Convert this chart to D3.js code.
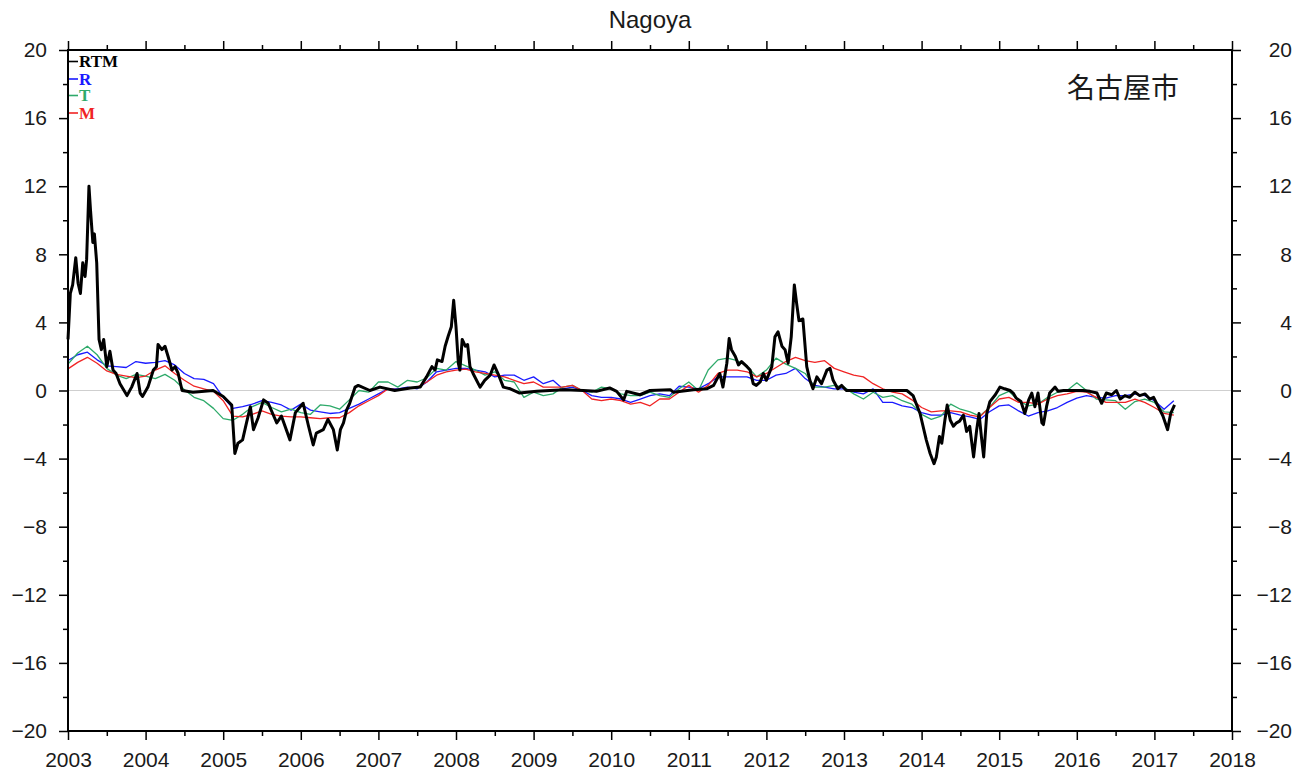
<!DOCTYPE html>
<html>
<head>
<meta charset="utf-8">
<script src="https://cdn.jsdelivr.net/npm/d3@7"></script>
<style>
  body { margin: 0; background: #fff; }
  text { font-family: "Liberation Sans", Arial, sans-serif; }
</style>
</head>
<body>
<svg id="chart" width="1304" height="771"></svg>
<script>
// black line (RTM)
var rtmYears = [2003.00,2003.03,2003.06,2003.10,2003.13,2003.16,2003.19,2003.22,2003.24,2003.27,2003.29,2003.32,2003.34,2003.37,2003.40,2003.43,2003.46,2003.50,2003.54,2003.58,2003.62,2003.67,2003.76,2003.82,2003.89,2003.93,2003.96,
  2004.03,2004.10,2004.14,2004.16,2004.21,2004.25,2004.29,2004.34,2004.38,2004.42,2004.47,2004.61,2004.87,
  2005.00,2005.11,2005.15,2005.19,2005.25,2005.30,2005.35,2005.39,2005.45,2005.52,2005.58,2005.69,2005.75,2005.86,2005.93,
  2006.03,2006.10,2006.16,2006.20,2006.29,2006.35,2006.42,2006.47,2006.51,2006.55,2006.59,2006.63,2006.70,2006.74,2006.89,
  2007.02,2007.21,2007.41,2007.54,2007.62,2007.69,2007.73,2007.76,2007.82,2007.86,2007.90,2007.94,2007.97,
  2008.00,2008.03,2008.05,2008.08,2008.12,2008.15,2008.18,2008.22,2008.31,2008.37,2008.44,2008.49,2008.55,2008.61,2008.70,2008.82,
  2009.04,2009.21,2009.40,2009.64,2009.81,2009.98,2010.07,2010.16,2010.20,2010.37,2010.50,2010.76,2010.80,
  2011.06,2011.23,2011.32,2011.40,2011.44,2011.49,2011.52,2011.55,2011.60,2011.64,2011.68,2011.75,2011.79,2011.83,2011.87,2011.92,2011.96,
  2012.00,2012.07,2012.11,2012.15,2012.20,2012.24,2012.28,2012.32,2012.36,2012.39,2012.42,2012.47,2012.52,2012.56,2012.60,2012.65,2012.71,2012.78,2012.82,2012.86,2012.92,2012.97,
  2013.03,2013.20,2013.42,2013.63,2013.81,2013.89,2013.98,
  2014.06,2014.11,2014.16,2014.19,2014.23,2014.26,2014.30,2014.33,2014.37,2014.41,2014.45,2014.49,2014.54,2014.58,2014.62,2014.67,2014.71,2014.74,2014.77,2014.80,2014.84,2014.88,2014.95,
  2015.01,2015.07,2015.14,2015.18,2015.22,2015.28,2015.33,2015.38,2015.42,2015.46,2015.50,2015.55,2015.57,2015.61,2015.65,2015.72,2015.76,2015.83,
  2016.08,2016.17,2016.26,2016.32,2016.38,2016.45,2016.51,2016.56,2016.62,2016.68,2016.75,2016.81,2016.88,2016.94,2016.99,
  2017.05,2017.11,2017.17,2017.21,2017.26];
var rtmValues = [3.0,5.7,6.2,7.8,6.3,5.7,7.5,6.7,7.7,12.0,10.6,8.7,9.2,7.5,3.0,2.4,3.0,1.4,2.3,1.2,1.0,0.4,-0.3,0.2,1.0,-0.15,-0.35,
  0.2,1.2,1.4,2.7,2.4,2.6,2.0,1.2,1.4,1.0,0.0,-0.1,0.0,
  -0.35,-0.85,-3.7,-3.1,-2.9,-1.9,-0.95,-2.3,-1.6,-0.55,-0.75,-1.9,-1.5,-2.9,-1.3,
  -0.75,-2.1,-3.2,-2.5,-2.3,-1.7,-2.3,-3.5,-2.3,-1.9,-1.15,-0.75,0.2,0.3,0.0,
  0.2,0.0,0.15,0.2,0.8,1.4,1.2,1.8,1.7,2.6,3.2,3.75,5.3,
  3.75,1.6,1.2,3.0,2.6,2.7,1.4,1.0,0.2,0.6,0.9,1.5,0.9,0.2,0.1,-0.15,
  -0.05,0.0,0.05,0.0,-0.05,0.15,-0.05,-0.55,-0.05,-0.25,0.0,0.05,-0.1,
  0.05,0.1,0.3,1.0,0.2,1.6,3.05,2.4,2.0,1.5,1.7,1.4,1.2,0.4,0.3,0.5,1.0,
  0.6,1.4,3.15,3.45,2.6,2.4,1.6,3.15,6.2,5.1,4.1,4.2,1.4,0.6,0.1,0.8,0.4,1.2,1.3,0.6,0.1,0.3,
  0.0,0.0,0.0,0.0,0.0,-0.3,-1.35,
  -2.9,-3.7,-4.3,-3.9,-2.7,-3.1,-1.75,-0.85,-1.75,-2.1,-1.9,-1.8,-1.45,-2.4,-2.1,-3.9,-2.3,-1.35,-2.7,-3.9,-1.35,-0.65,-0.25,
  0.2,0.1,0.0,-0.15,-0.45,-0.65,-1.35,-0.55,-0.15,-0.95,-0.15,-1.9,-2.0,-0.95,-0.15,0.2,-0.05,0.0,
  0.0,-0.05,-0.15,-0.75,-0.15,-0.25,0.0,-0.5,-0.3,-0.4,-0.1,-0.3,-0.2,-0.5,-0.4,
  -0.95,-1.5,-2.3,-1.35,-0.85];

// R, T, M sampled every 1/8 year from 2003.0
var gridStart = 2003, gridStep = 0.125;
var rValues = [1.76,2.1,2.25,1.8,1.45,1.4,1.35,1.7,1.6,1.65,1.75,1.5,1.0,0.7,0.65,0.4,-0.4,-1.05,-0.95,-0.8,-0.6,-0.7,-0.85,-1.15,-0.8,-1.15,-1.25,-1.35,-1.3,-1.05,-0.8,
  -0.5,-0.2,0.1,0.1,0.2,0.1,0.5,1.1,1.2,1.3,1.3,1.2,1.1,0.8,0.9,0.9,0.6,0.8,0.4,0.6,0.1,0.2,0.0,-0.3,-0.4,-0.4,-0.5,-0.7,-0.5,-0.3,-0.2,
  -0.3,0.25,0.2,0.1,0.4,0.8,0.8,0.8,0.8,0.6,0.6,0.9,1.0,1.3,0.7,0.3,0.2,0.1,0.1,-0.1,-0.2,0.1,-0.7,-0.7,-0.9,-1.0,-1.3,-1.45,-1.45,-1.3,
  -1.45,-1.55,-1.7,-1.25,-0.9,-0.85,-1.2,-1.5,-1.3,-1.2,-1.0,-0.7,-0.45,-0.3,-0.4,-0.45,-0.3,-0.3,-0.2,-0.3,-0.6,-1.1,-0.6];
var tValues = [1.55,2.2,2.6,2.1,1.3,0.9,0.7,0.95,0.85,0.7,0.95,0.6,0.05,-0.4,-0.6,-1.05,-1.65,-1.75,-1.4,-0.95,-0.7,-1.0,-1.25,-1.1,-1.3,-1.4,-0.85,-0.9,-1.1,-0.55,0.0,
  -0.1,0.5,0.5,0.2,0.6,0.5,0.75,1.3,1.2,1.7,1.45,1.2,0.9,1.1,0.6,0.5,-0.4,-0.1,-0.3,-0.2,0.2,0.3,0.0,-0.1,0.2,0.1,-0.2,-0.3,-0.3,-0.1,-0.3,
  -0.4,0.1,0.5,0.0,1.2,1.8,1.9,1.75,1.45,0.8,1.2,1.9,1.55,1.3,1.0,0.2,0.2,0.3,0.2,-0.2,-0.5,-0.1,-0.4,-0.3,-0.6,-0.8,-1.4,-1.7,-1.5,-0.8,
  -1.1,-1.25,-1.5,-1.0,-0.3,-0.05,-0.6,-0.9,-0.8,-0.4,-0.1,0.0,0.45,0.0,-0.5,-0.55,-0.6,-1.1,-0.65,-0.5,-0.7,-1.25,-1.3];
var mValues = [1.27,1.65,1.95,1.6,1.15,0.95,0.85,0.75,0.85,1.2,1.45,1.0,0.6,0.25,0.1,-0.05,-0.6,-1.5,-1.55,-1.4,-1.2,-1.4,-1.5,-1.55,-1.55,-1.6,-1.65,-1.6,-1.6,-1.3,-0.9,
  -0.6,-0.3,0.1,0.05,0.1,0.2,0.5,0.9,1.1,1.2,1.25,1.1,1.0,0.9,0.8,0.6,0.4,0.5,0.2,0.2,0.2,0.3,0.0,-0.5,-0.6,-0.5,-0.6,-0.8,-0.7,-0.9,-0.5,
  -0.5,-0.1,0.3,-0.1,0.3,1.0,1.2,1.2,1.1,0.8,1.0,1.35,1.7,1.95,1.75,1.65,1.75,1.3,1.1,0.9,0.8,0.4,0.1,-0.1,-0.2,-0.55,-1.0,-1.25,-1.2,-1.2,
  -1.25,-1.45,-1.55,-1.0,-0.5,-0.4,-0.7,-0.7,-0.8,-0.5,-0.3,-0.2,-0.05,-0.1,-0.4,-0.7,-0.7,-0.7,-0.5,-0.7,-1.0,-1.35,-1.45];

var seriesNames = ["RTM", "R", "T", "M"];
var seriesColors = ["#000000", "#1a1aff", "#2eaa6a", "#f02424"];
var xMajor = d3.range(2003, 2019, 1);
var yMajor = d3.range(-20, 21, 4);

var svg = d3.select("#chart");
var plotLeft = 68, plotRight = 1232, plotTop = 50, plotBottom = 731;

var x = d3.scaleLinear().domain([2003, 2018]).range([plotLeft, plotRight]);
var y = d3.scaleLinear().domain([-20, 20]).range([plotBottom, plotTop]);

// zero line
svg.append("line")
  .attr("x1", plotLeft).attr("x2", plotRight)
  .attr("y1", y(0)).attr("y2", y(0))
  .attr("stroke", "#cfcfcf").attr("stroke-width", 1);

function gridDate(i) { return gridStart + i * gridStep; }

var line = d3.line()
  .x(function(d) { return x(d[0]); })
  .y(function(d) { return y(d[1]); });

var colored = [[rValues, 1], [tValues, 2], [mValues, 3]];
colored.forEach(function(s) {
  var pts = s[0].map(function(v, i) { return [gridDate(i), v]; });
  svg.append("path")
    .attr("d", line(pts))
    .attr("fill", "none")
    .attr("stroke", seriesColors[s[1]])
    .attr("stroke-width", 1.3)
    .attr("stroke-linejoin", "round");
});

var rtmPts = rtmYears.map(function(t, i) { return [t, rtmValues[i]]; });
svg.append("path")
  .attr("d", line(rtmPts))
  .attr("fill", "none")
  .attr("stroke", "#000")
  .attr("stroke-width", 3)
  .attr("stroke-linejoin", "round");

// axes: major ticks with labels, minor ticks without
function styleAxis(g) {
  g.select(".domain").remove();
  g.selectAll("line").attr("stroke", "#000").attr("stroke-width", 1.5);
  g.selectAll("text").style("font-size", "21px").attr("fill", "#1a1a1a");
}
var xMinor = d3.range(2003.5, 2018, 1);
var yMinor = d3.range(-18, 20, 4);

svg.append("g").attr("transform", "translate(0," + plotBottom + ")")
  .call(d3.axisBottom(x).tickValues(xMajor).tickFormat(d3.format("d")).tickSize(9).tickPadding(12))
  .call(styleAxis);
svg.append("g").attr("transform", "translate(0," + plotBottom + ")")
  .call(d3.axisBottom(x).tickValues(xMinor).tickFormat("").tickSize(5))
  .call(styleAxis);
svg.append("g").attr("transform", "translate(0," + plotTop + ")")
  .call(d3.axisTop(x).tickValues(xMajor).tickFormat("").tickSize(9))
  .call(styleAxis);
svg.append("g").attr("transform", "translate(0," + plotTop + ")")
  .call(d3.axisTop(x).tickValues(xMinor).tickFormat("").tickSize(5))
  .call(styleAxis);
svg.append("g").attr("transform", "translate(" + plotLeft + ",0)")
  .call(d3.axisLeft(y).tickValues(yMajor).tickSize(9).tickPadding(12))
  .call(styleAxis);
svg.append("g").attr("transform", "translate(" + plotLeft + ",0)")
  .call(d3.axisLeft(y).tickValues(yMinor).tickFormat("").tickSize(5))
  .call(styleAxis);
var rightAxis = svg.append("g").attr("transform", "translate(" + plotRight + ",0)")
  .call(d3.axisRight(y).tickValues(yMajor).tickSize(9).tickPadding(12))
  .call(styleAxis);
rightAxis.selectAll("text").attr("text-anchor", "end").attr("x", 60);
svg.append("g").attr("transform", "translate(" + plotRight + ",0)")
  .call(d3.axisRight(y).tickValues(yMinor).tickFormat("").tickSize(5))
  .call(styleAxis);

// frame
svg.append("rect")
  .attr("x", plotLeft).attr("y", plotTop)
  .attr("width", plotRight - plotLeft).attr("height", plotBottom - plotTop)
  .attr("fill", "none").attr("stroke", "#000").attr("stroke-width", 2);

// title
svg.append("text")
  .attr("x", (plotLeft + plotRight) / 2).attr("y", 28)
  .attr("text-anchor", "middle")
  .style("font-size", "24px").attr("fill", "#1a1a1a")
  .text("Nagoya");

svg.append("text")
  .attr("x", 1067).attr("y", 98)
  .style("font-family", "'Noto Sans CJK JP', sans-serif")
  .style("font-size", "28px").attr("fill", "#1a1a1a")
  .text("名古屋市");

// legend
var legendY = [61.5, 79, 95.5, 113];
seriesNames.forEach(function(name, i) {
  svg.append("line")
    .attr("x1", plotLeft + 1).attr("x2", plotLeft + 10)
    .attr("y1", legendY[i]).attr("y2", legendY[i])
    .attr("stroke", seriesColors[i]).attr("stroke-width", 1.6);
  svg.append("text")
    .attr("x", plotLeft + 11).attr("y", legendY[i] + 5.5)
    .style("font-family", "'Liberation Serif', 'Times New Roman', serif")
    .style("font-weight", "bold").style("font-size", "17px")
    .attr("fill", seriesColors[i])
    .text(name);
});
</script>
</body>
</html>
